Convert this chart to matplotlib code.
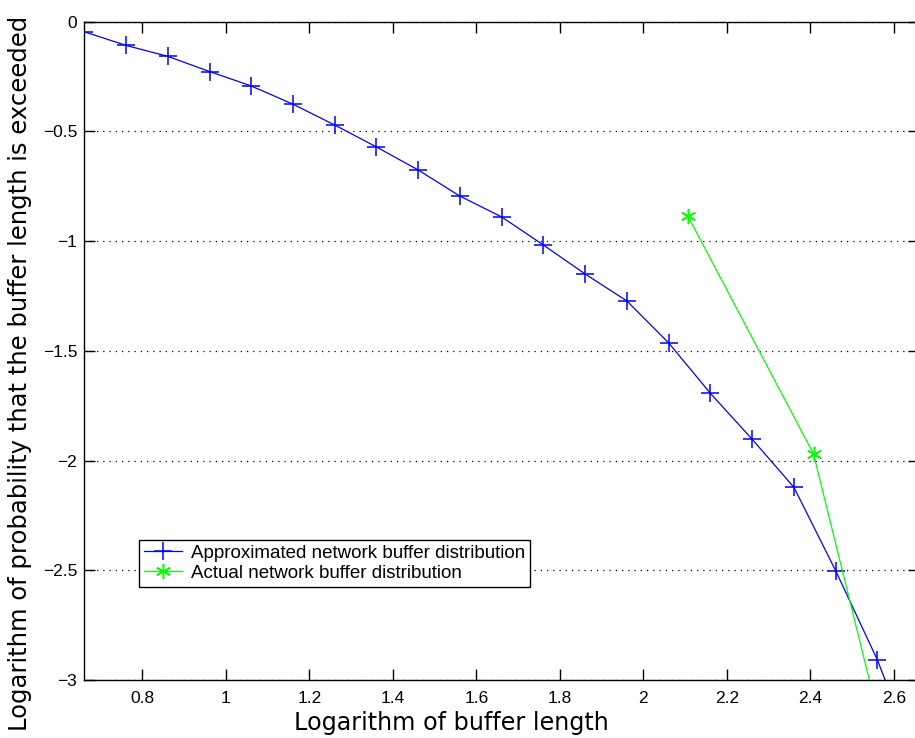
import matplotlib
matplotlib.use('Agg')
import matplotlib.pyplot as plt

plt.rcParams['font.family'] = ['Liberation Sans', 'DejaVu Sans']

# log10 of buffer length / log10 of exceedance probability
approx_x = [0.661, 0.761, 0.861, 0.961, 1.061, 1.161, 1.261, 1.361, 1.461, 1.561,
            1.661, 1.761, 1.861, 1.961, 2.061, 2.161, 2.261, 2.361, 2.461, 2.561, 2.661]
approx_y = [-0.046, -0.108, -0.158, -0.227, -0.293, -0.376, -0.471, -0.571, -0.676, -0.795,
            -0.890, -1.018, -1.150, -1.273, -1.464, -1.694, -1.903, -2.122, -2.502, -2.909, -3.40]
actual_x = [2.107, 2.408, 2.709]
actual_y = [-0.886, -1.970, -4.29]

yticks = [0, -0.5, -1, -1.5, -2, -2.5, -3]
ytick_labels = ['0', '\u22120.5', '\u22121', '\u22121.5', '\u22122', '\u22122.5', '\u22123']
xticks = [0.8, 1.0, 1.2, 1.4, 1.6, 1.8, 2.0, 2.2, 2.4, 2.6]
xtick_labels = ['0.8', '1', '1.2', '1.4', '1.6', '1.8', '2', '2.2', '2.4', '2.6']

fig = plt.figure(figsize=(9.15, 7.38), dpi=100)
ax = fig.add_axes([0.0921, 0.0786, 0.912, 0.892])

ax.plot(approx_x, approx_y, color=(0, 0, 1), lw=0.9, marker='+', ms=13, mew=1.1,
        label='Approximated network buffer distribution')
ax.plot(actual_x, actual_y, color=(0, 1, 0), lw=0.9, marker=(6, 2, 0), ms=11, mew=1.1,
        label='Actual network buffer distribution')

ax.set_xlim(0.661, 2.66)
ax.set_ylim(-3, 0)
ax.set_xticks(xticks)
ax.set_xticklabels(xtick_labels)
ax.set_yticks(yticks)
ax.set_yticklabels(ytick_labels)
ax.yaxis.grid(True, linestyle=(0, (1, 4)), color='k', lw=0.9)
ax.tick_params(direction='in', length=8, width=1, top=True, right=True,
               labelsize=12.5, pad=5)
ax.tick_params(axis='x', pad=8)
for s in ax.spines.values():
    s.set_linewidth(1)

ax.set_xlabel('Logarithm of buffer length', fontsize=17.2, family='DejaVu Sans')
ax.xaxis.set_label_coords(0.4405, -0.047)
ax.set_ylabel('Logarithm of probability that the buffer length is exceeded',
              fontsize=17.5, family='DejaVu Sans')
ax.yaxis.set_label_coords(-0.0627, 0.4656)

leg = ax.legend(loc='lower left', bbox_to_anchor=(0.066, 0.142), fontsize=13.5,
                fancybox=False, framealpha=1, edgecolor='k', borderpad=0.25,
                handlelength=2.0, handletextpad=0.5, labelspacing=0.15,
                borderaxespad=0)
leg.get_frame().set_linewidth(1)

fig.savefig('out.png', dpi=100)
